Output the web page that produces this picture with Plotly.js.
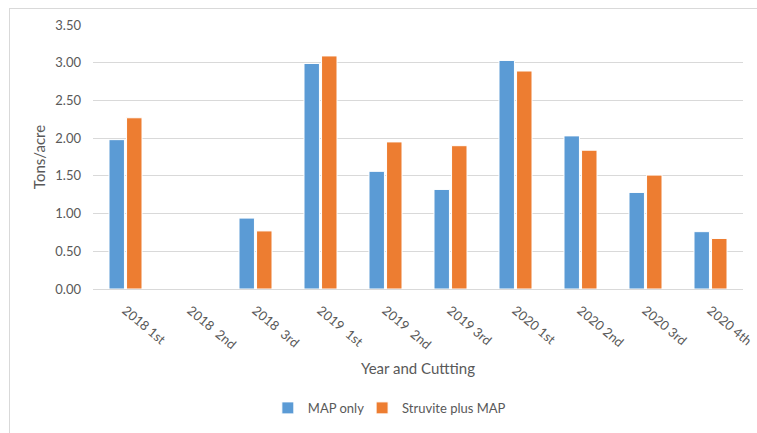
<!DOCTYPE html>
<html>
<head>
<meta charset="utf-8">
<script src="https://cdn.plot.ly/plotly-3.0.1.min.js"></script>
<style>
  html, body { margin: 0; padding: 0; background: #fff; }
  #wrap { position: relative; width: 757px; height: 433px; }
  #chart { position: absolute; left: 0; top: 0; width: 757px; height: 433px; }
  #frame { position: absolute; left: 9px; top: 8px; width: 760px; height: 440px;
           border: 1px solid #d9d9d9; box-sizing: border-box; pointer-events: none; }
</style>
</head>
<body>
<div id="wrap">
  <div id="chart"></div>
  <div id="frame"></div>
</div>
<script>
// Hay yield per cutting, tons per acre
const cuttings = ["2018 1st", "2018  2nd", "2018  3rd", "2019  1st", "2019  2nd",
                  "2019 3rd", "2020 1st", "2020 2nd", "2020 3rd", "2020 4th"];
const mapOnly = [1.98, null, 0.94, 2.99, 1.56, 1.32, 3.03, 2.03, 1.28, 0.76];
const struvitePlusMap = [2.27, null, 0.77, 3.09, 1.95, 1.90, 2.89, 1.84, 1.51, 0.67];
const yTicks = [0, 0.5, 1, 1.5, 2, 2.5, 3, 3.5];

const textColor = "#595959";
const font = "Lato, 'Open Sans', sans-serif";

// each series gets its own legend box so the two entries sit close together
const traces = [
  { type: "bar", name: "MAP only", x: cuttings, y: mapOnly, legend: "legend",
    marker: { color: "#5B9BD5", line: { color: "#ffffff", width: 1 } } },
  { type: "bar", name: "Struvite plus MAP", x: cuttings, y: struvitePlusMap, legend: "legend2",
    marker: { color: "#ED7D31", line: { color: "#ffffff", width: 1 } } }
];

const legendBase = {
  orientation: "h", xanchor: "left", y: -0.445, yanchor: "middle",
  font: { size: 13, color: textColor }, itemwidth: 30, bgcolor: "rgba(0,0,0,0)"
};

const layout = {
  width: 757, height: 433,
  margin: { l: 93, r: 14, t: 25, b: 143 },
  paper_bgcolor: "#ffffff", plot_bgcolor: "#ffffff",
  font: { family: font, color: textColor, size: 13 },
  barmode: "group", bargap: 0.46, bargroupgap: 0.12,
  showlegend: true,
  legend: Object.assign({}, legendBase, { x: 0.269 }),
  legend2: Object.assign({}, legendBase, { x: 0.414 }),
  xaxis: {
    type: "category", tickangle: 40, showline: false, showgrid: false,
    // invisible ticks only push the labels a little further below the axis
    ticks: "outside", ticklen: 8, tickcolor: "rgba(0,0,0,0)",
    automargin: false,
    tickfont: { size: 13, color: textColor },
    title: { text: "Year and Cuttting", font: { size: 15, color: textColor }, standoff: 12 }
  },
  yaxis: {
    range: [0, 3.5], tickvals: yTicks, tickformat: ".2f",
    showgrid: true, gridcolor: "#d9d9d9", gridwidth: 1,
    zeroline: true, zerolinecolor: "#d9d9d9", zerolinewidth: 1,
    showline: false, ticks: "", ticklen: 0, ticklabelstandoff: 11,
    automargin: false,
    tickfont: { size: 13, color: textColor },
    title: { text: "Tons/acre", font: { size: 15, color: textColor }, standoff: 6 }
  }
};

Plotly.newPlot("chart", traces, layout, { displayModeBar: false, staticPlot: true });
</script>
</body>
</html>
